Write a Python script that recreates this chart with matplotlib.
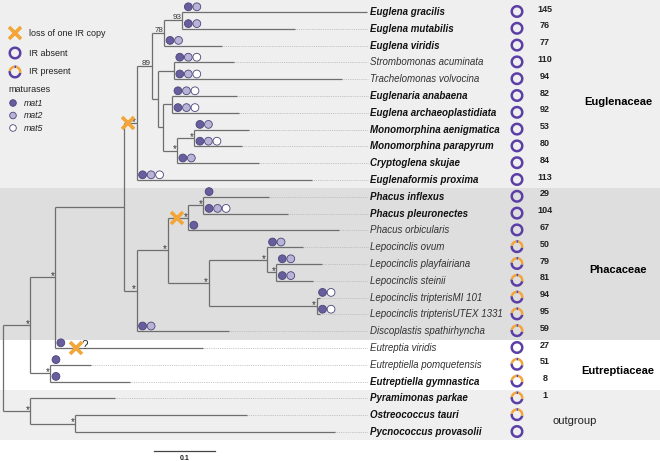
import matplotlib.pyplot as plt
from matplotlib.patches import Circle, Wedge, Rectangle

plt.rcParams['font.family'] = ['Liberation Sans', 'DejaVu Sans']

# ===================== data =====================
# ML tree (branch lengths in substitutions/site), internal labels = support
EUGLENACEAE = (
    "((((Euglena_gracilis:0.303,Euglena_mutabilis:0.185)93:0.030,Euglena_viridis:0.095)78:0.020,"
    "((Strombomonas_acuminata:0.098,Trachelomonas_volvocina:0.275):0.026,"
    "((Euglenaria_anabaena:0.107,Euglena_archaeoplastidiata:0.110):0.015,"
    "((Monomorphina_aenigmatica:0.090,Monomorphina_parapyrum:0.079)*:0.028,"
    "Cryptoglena_skujae:0.134)*:0.023):0.008):0.010)89:0.025,"
    "Euglenaformis_proxima:0.287)*"
)
PHACACEAE = (
    "((((Phacus_inflexus:0.108,Phacus_pleuronectes:0.139)*:0.025,Phacus_orbicularis:0.248)*:0.033,"
    "((Lepocinclis_ovum:0.059,(Lepocinclis_playfairiana:0.075,Lepocinclis_steinii:0.061)*:0.016)*:0.095,"
    "(Lepocinclis_tripterisMI_101:0.006,Lepocinclis_tripterisUTEX_1331:0.006)*:0.177)*:0.067)*:0.051,"
    "Discoplastis_spathirhyncha:0.152)*"
)
TREE = (
    "((((" + EUGLENACEAE + ":0.021," + PHACACEAE + ":0.021):0.113,Eutreptia_viridis:0.243)*:0.041,"
    "(Eutreptiella_pomquetensis:0.067,Eutreptiella_gymnastica:0.131)*:0.033)*:0.044,"
    "(Pyramimonas_parkae:0.139,(Ostreococcus_tauri:0.282,Pycnococcus_provasolii:0.426)*:0.074)*:0.044);"
)

TAXA = [
    "Euglena gracilis", "Euglena mutabilis", "Euglena viridis", "Strombomonas acuminata",
    "Trachelomonas volvocina", "Euglenaria anabaena", "Euglena archaeoplastidiata",
    "Monomorphina aenigmatica", "Monomorphina parapyrum", "Cryptoglena skujae",
    "Euglenaformis proxima", "Phacus inflexus", "Phacus pleuronectes", "Phacus orbicularis",
    "Lepocinclis ovum", "Lepocinclis playfairiana", "Lepocinclis steinii",
    "Lepocinclis tripterisMI 101", "Lepocinclis tripterisUTEX 1331", "Discoplastis spathirhyncha",
    "Eutreptia viridis", "Eutreptiella pomquetensis", "Eutreptiella gymnastica",
    "Pyramimonas parkae", "Ostreococcus tauri", "Pycnococcus provasolii",
]
BOLD = [1, 1, 1, 0, 0, 1, 1, 1, 1, 1, 1,
        1, 1, 0, 0, 0, 0, 0, 0, 0,
        0, 0, 1,
        1, 1, 1]
IR_PRESENT = [0, 0, 0, 0, 0, 0, 0, 0, 0, 0, 0,
              0, 0, 0, 1, 1, 1, 1, 1, 1,
              0, 1, 1,
              1, 1, 0]
INTRON_COUNTS = [145, 76, 77, 110, 94, 82, 92, 53, 80, 84, 113,
                 29, 104, 67, 50, 79, 81, 94, 95, 59,
                 27, 51, 8,
                 1, None, None]
MATURASES = ["12", "12", "12", "125", "125", "125", "125", "12", "125", "12", "125",
             "1", "125", "1", "12", "12", "12", "15", "15", "12",
             "1", "1", "1",
             "", "", ""]

FAMILIES = ["Euglenaceae", "Phacaceae", "Eutreptiaceae", "outgroup"]
FAMILY_SIZES = [11, 9, 3, 3]
FAMILY_SHADES = ["#efefef", "#dedede", "#ffffff", "#efefef"]
FAMILY_BOLD = [True, True, True, False]

# IR-copy loss events: (tips defining the clade, position along its branch, note)
LOSS_EVENTS = [
    (("Euglena gracilis", "Euglenaformis proxima"), 0.30, ""),
    (("Phacus inflexus", "Phacus orbicularis"), 0.45, ""),
    (("Eutreptia viridis",), 0.14, "?"),
]

# ===================== style =====================
W, H = 660, 461
X0, PX_PER_UNIT = 3, 610
ROW0, ROW_STEP = 12, 16.8
LABEL_X, RING_X, COUNT_X = 370, 517, 545
BRANCH = "#6e6e6e"
PURPLE = "#5b3fa5"
ORANGE = "#f2a63a"
MAT_COLORS = {"1": "#675f9d", "2": "#b9b3d8", "5": "#ffffff"}
MAT_EDGE = "#4a4478"


def parse_newick(s):
    pos = 0

    def node():
        nonlocal pos
        children = []
        if s[pos] == "(":
            pos += 1
            while True:
                children.append(node())
                if s[pos] == ",":
                    pos += 1
                    continue
                pos += 1
                break
        start = pos
        while s[pos] not in ",():;":
            pos += 1
        label = s[start:pos].replace("_", " ")
        length = 0.0
        if s[pos] == ":":
            pos += 1
            start = pos
            while s[pos] not in ",();":
                pos += 1
            length = float(s[start:pos])
        return {"label": label, "length": length, "children": children}

    return node()


def layout(node, depth=0.0, tips=None, parent=None):
    if tips is None:
        tips = []
    node["x"] = X0 + (depth + node["length"]) * PX_PER_UNIT
    node["parent"] = parent
    if node["children"]:
        for c in node["children"]:
            layout(c, depth + node["length"], tips, node)
        node["y"] = (node["children"][0]["y"] + node["children"][-1]["y"]) / 2
        node["tips"] = [t for c in node["children"] for t in c["tips"]]
    else:
        node["y"] = ROW0 + ROW_STEP * len(tips)
        tips.append(node)
        node["tips"] = [node["label"]]
    return tips


def walk(node):
    yield node
    for c in node["children"]:
        yield from walk(c)


def ring(ax, x, y, present, r=6.5, w=2.5):
    if not present:
        ax.add_patch(Wedge((x, y), r, 0, 360, width=w, color=PURPLE, lw=0))
        return
    # y axis is inverted: angles are mirrored on screen
    ax.add_patch(Wedge((x, y), r, 10, 190, width=w, color=PURPLE, lw=0))
    ax.add_patch(Wedge((x, y), r, 190, 265, width=w, color=ORANGE, lw=0))
    ax.add_patch(Wedge((x, y), r, 265, 285, width=w, color=PURPLE, lw=0))
    ax.add_patch(Wedge((x, y), r, 285, 370, width=w, color=ORANGE, lw=0))


def mat_dot(ax, x, y, m, r=3.9):
    ax.add_patch(Circle((x, y), r, facecolor=MAT_COLORS[m], edgecolor=MAT_EDGE, lw=0.6, zorder=4))


def loss_mark(ax, x, y):
    ax.plot([x], [y], marker="x", markersize=8, mew=2.6, color=ORANGE, zorder=5)


root = parse_newick(TREE)
tips = layout(root, -root["length"])
nodes = list(walk(root))

fig = plt.figure(figsize=(W / 100, H / 100), dpi=100)
ax = fig.add_axes([0, 0, 1, 1])
ax.set_xlim(0, W)
ax.set_ylim(H, 0)
ax.axis("off")

# family bands
start = 0
for i, (fam, n) in enumerate(zip(FAMILIES, FAMILY_SIZES)):
    y_top = 0 if i == 0 else ROW0 + ROW_STEP * (start - 0.5)
    y_bot = ROW0 + ROW_STEP * (start + n - 0.5)
    ax.add_patch(Rectangle((0, y_top), W, y_bot - y_top, color=FAMILY_SHADES[i], lw=0, zorder=0))
    y_mid = ROW0 + ROW_STEP * (start + (n - 1) / 2) + 6
    if FAMILY_BOLD[i]:
        ax.text(618, y_mid, fam, fontsize=8, fontweight="bold", ha="center", va="center")
    else:
        ax.text(575, y_mid, fam, fontsize=8, ha="center", va="center", color="#222222")
    start += n

# branches
for nd in nodes:
    if nd["parent"] is not None:
        ax.plot([nd["parent"]["x"], nd["x"]], [nd["y"], nd["y"]], color=BRANCH, lw=0.9, zorder=2,
                solid_capstyle="butt")
    if nd["children"]:
        ax.plot([nd["x"], nd["x"]], [nd["children"][0]["y"], nd["children"][-1]["y"]],
                color=BRANCH, lw=0.9, zorder=2, solid_capstyle="butt")
        lab = nd["label"]
        if lab == "*":
            ax.text(nd["x"] - 0.5, nd["y"] + 1.8, "*", fontsize=7, ha="right", va="baseline",
                    color="#333333")
        elif lab:
            ax.text(nd["x"] - 1, nd["y"] - 1.5, lab, fontsize=5.8, ha="right", va="baseline",
                    color="#333333")

# tips: leaders, names, IR rings, counts, maturases
info = {t: i for i, t in enumerate(TAXA)}
for tip in tips:
    i = info[tip["label"]]
    y = tip["y"]
    if tip["x"] < LABEL_X - 4:
        ax.plot([tip["x"], LABEL_X - 2], [y, y], color="#b5b5b5", lw=0.6, ls=(0, (1, 1.2)), zorder=1)
    ax.text(LABEL_X, y, tip["label"], fontsize=7, style="italic",
            fontweight="bold" if BOLD[i] else "normal",
            color="#111111" if BOLD[i] else "#333333", ha="left", va="center")
    ring(ax, RING_X, y - 0.5, IR_PRESENT[i])
    if INTRON_COUNTS[i] is not None:
        ax.text(COUNT_X, y - 3, str(INTRON_COUNTS[i]), fontsize=6.5, fontweight="bold",
                ha="center", va="center", color="#222222")
    for k, m in enumerate(MATURASES[i]):
        mat_dot(ax, tip["parent"]["x"] + 6 + 8.5 * k, y - 5.2, m)

# IR loss events
for clade, frac, note in LOSS_EVENTS:
    target = [nd for nd in nodes if set(clade) <= set(nd["tips"])]
    nd = min(target, key=lambda n: len(n["tips"]))
    x = nd["parent"]["x"] + frac * (nd["x"] - nd["parent"]["x"])
    loss_mark(ax, x, nd["y"])
    if note:
        ax.text(x + 6, nd["y"] - 2, note, fontsize=8.5, color="#333333", ha="left", va="center")

# legend
loss_mark(ax, 15, 33)
ax.text(29, 33, "loss of one IR copy", fontsize=6.5, va="center", color="#222222")
ring(ax, 15, 53, False)
ax.text(29, 53, "IR absent", fontsize=6.5, va="center", color="#222222")
ring(ax, 15, 72, True)
ax.text(29, 72, "IR present", fontsize=6.5, va="center", color="#222222")
ax.text(8, 90, "maturases", fontsize=6.5, va="center", color="#222222")
for k, m in enumerate(["1", "2", "5"]):
    yy = 103 + 12.5 * k
    mat_dot(ax, 13, yy, m, r=3.3)
    ax.text(24, yy, "mat" + m, fontsize=6.3, style="italic", va="center", color="#222222")

# scale bar
ax.plot([154, 154 + 0.1 * PX_PER_UNIT], [451, 451], color="#444444", lw=0.9)
ax.text(154 + 0.05 * PX_PER_UNIT, 458, "0.1", fontsize=5, fontweight="bold", ha="center",
        va="center", color="#222222")

fig.savefig("out.png", dpi=100)
